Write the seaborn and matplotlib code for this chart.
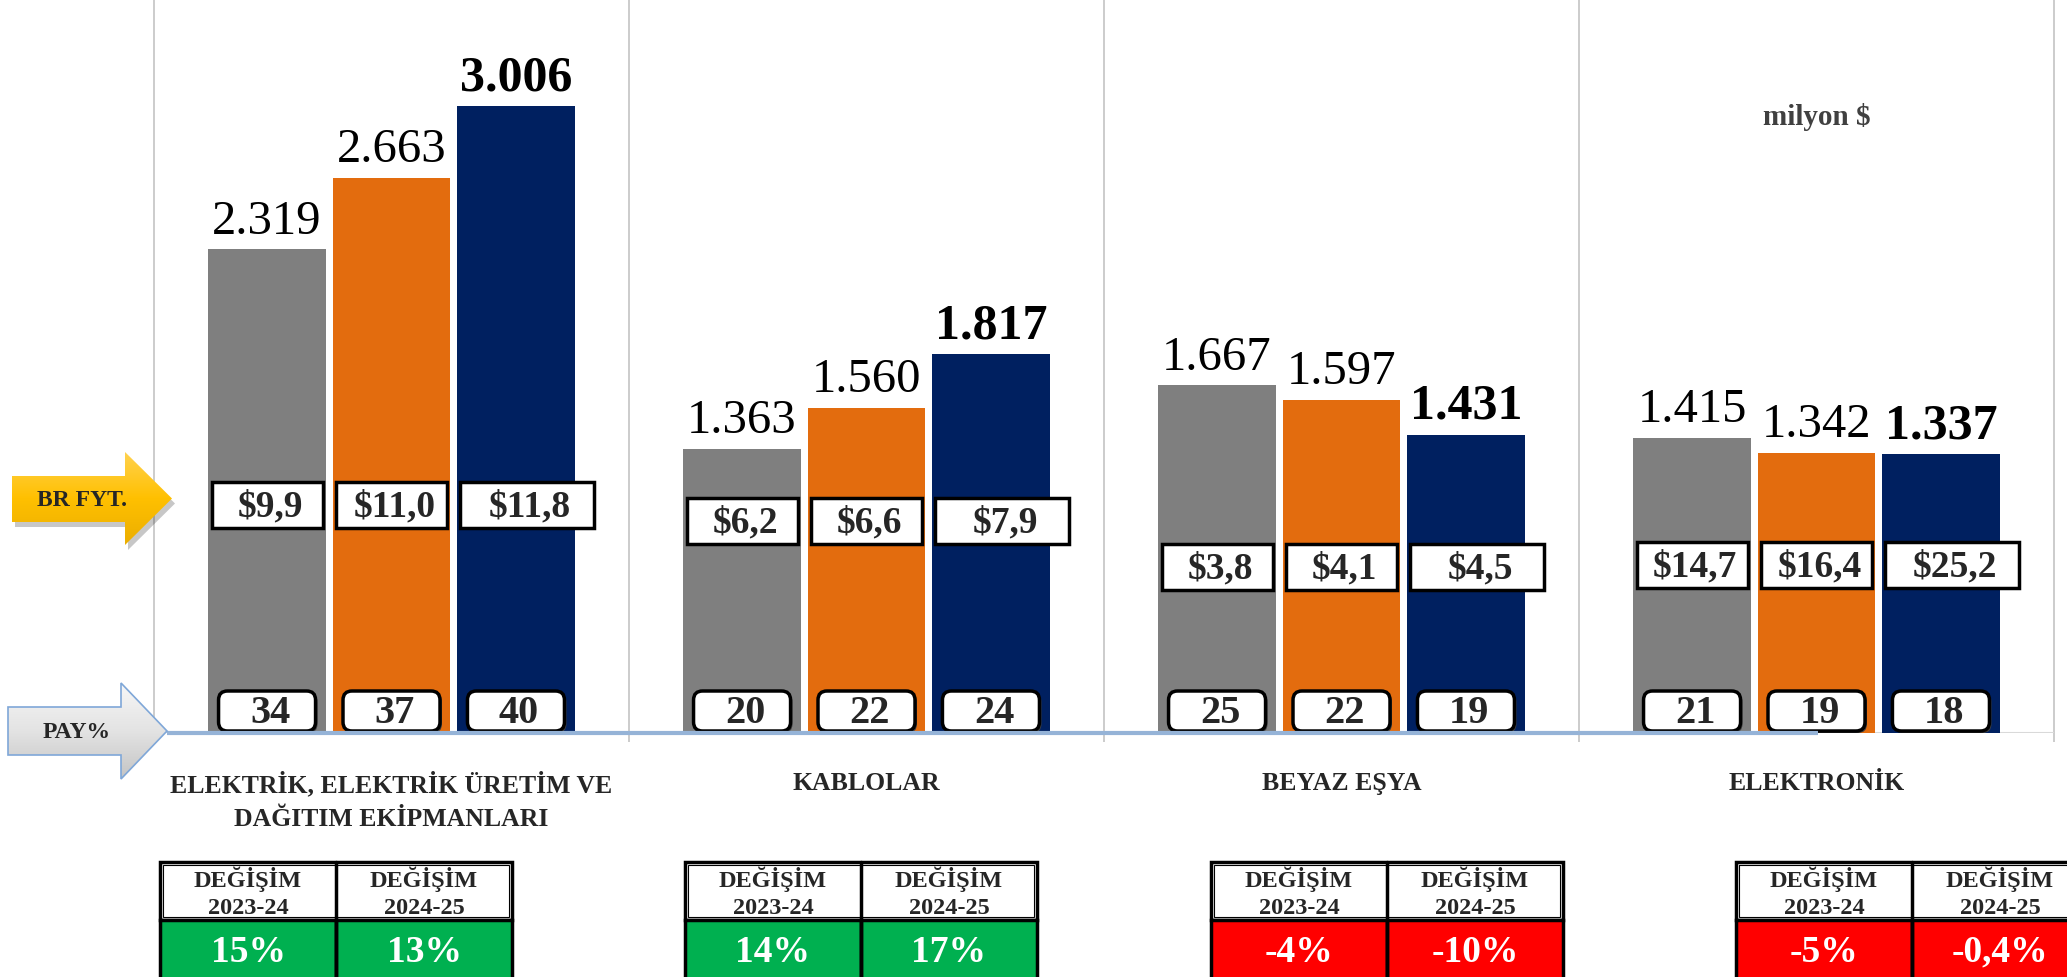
import numpy as np
import pandas as pd
import matplotlib
matplotlib.use("Agg")
import matplotlib.pyplot as plt
import seaborn as sns
from matplotlib.patches import Rectangle, FancyBboxPatch, Polygon
from matplotlib.colors import LinearSegmentedColormap

# ---------------- data ----------------
categories = ["ELEKTRİK, ELEKTRİK ÜRETİM VE\nDAĞITIM EKİPMANLARI", "KABLOLAR", "BEYAZ EŞYA", "ELEKTRONİK"]
years = ["2023", "2024", "2025"]
exports_2023 = [2319, 1363, 1667, 1415]
exports_2024 = [2663, 1560, 1597, 1342]
exports_2025 = [3006, 1817, 1431, 1337]
unit_price_2023 = ["$9,9", "$6,2", "$3,8", "$14,7"]
unit_price_2024 = ["$11,0", "$6,6", "$4,1", "$16,4"]
unit_price_2025 = ["$11,8", "$7,9", "$4,5", "$25,2"]
share_2023 = ["34", "20", "25", "21"]
share_2024 = ["37", "22", "22", "19"]
share_2025 = ["40", "24", "19", "18"]
change_2023_24 = ["15%", "14%", "-4%", "-5%"]
change_2024_25 = ["13%", "17%", "-10%", "-0,4%"]
period_labels = ["2023-24", "2024-25"]
unit_text = "milyon $"

# ---------------- styles / layout ----------------
colors = ["#7F7F7F", "#E36C0E", "#002060"]
W, H, DPI = 2067, 978, 100
ax_left_px, ax_right_px, ax_bottom_px = 154, 2054, 734
ymax = 3519
price_box_y = [1093, 1016, 796, 805]      # vertical placement of price boxes (data units)
table_left_px = [160, 685, 1211, 1736]

sns.set_style("white")
plt.rcParams["font.family"] = ["Liberation Serif", "DejaVu Serif"]

fig = plt.figure(figsize=(W / DPI, H / DPI), dpi=DPI)
ax = fig.add_axes([ax_left_px / W, 1 - ax_bottom_px / H,
                   (ax_right_px - ax_left_px) / W, ax_bottom_px / H])

df = pd.DataFrame({
    "cat": np.repeat(categories, 3),
    "year": years * len(categories),
    "val": np.ravel(np.column_stack([exports_2023, exports_2024, exports_2025])),
})
sns.barplot(data=df, x="cat", y="val", hue="year", hue_order=years,
            palette=colors, saturation=1, width=0.786, gap=0.053,
            linewidth=0, legend=False, ax=ax, zorder=2)

ax.set_xlim(-0.5, len(categories) - 0.5)
ax.set_ylim(0, ymax)
for s in ax.spines.values():
    s.set_visible(False)
ax.set_xticks([]); ax.set_yticks([])
ax.set_xlabel(""); ax.set_ylabel("")

px_per_x = (ax_right_px - ax_left_px) / len(categories)
px_per_y = ax_bottom_px / ymax

# separators and baseline
ax.vlines(np.arange(-0.5, len(categories)), -9 / px_per_y, ymax,
          color="#C8C8C8", lw=1.3, clip_on=False, zorder=1)
ax.axhline(0, color="#D9D9D9", lw=1.5, zorder=1)

prices = [unit_price_2023, unit_price_2024, unit_price_2025]
shares = [share_2023, share_2024, share_2025]
asp = (1 / px_per_y) / (1 / px_per_x)

for i, cont in enumerate(ax.containers):
    for j, bar in enumerate(cont):
        h = bar.get_height()
        cx = bar.get_x() + bar.get_width() / 2
        lab = f"{int(h):,}".replace(",", ".")
        ax.annotate(lab, (cx, h), xytext=(0, 12), textcoords="offset points",
                    ha="center", va="baseline", fontsize=35 if i < 2 else 36,
                    fontweight="bold" if i == 2 else "normal", color="black", zorder=5)
        # price box
        bw = (111 if i < 2 else 134) / px_per_x
        bcx = cx + (0 if i < 2 else 11 / px_per_x)
        bh = 46 / px_per_y
        yc = price_box_y[j]
        ax.add_patch(Rectangle((bcx - bw / 2, yc - bh / 2), bw, bh, facecolor="white",
                               edgecolor="black", lw=2.5, zorder=4))
        ax.text(bcx + 3 / px_per_x, yc - 1 / px_per_y, prices[i][j], ha="center", va="center",
                fontsize=27, fontweight="bold", zorder=6)
        # share box (rounded)
        sw = 97 / px_per_x
        sh = 40 / px_per_y
        sy0 = 2 / px_per_y
        ax.add_patch(FancyBboxPatch((cx - sw / 2 + 2 / px_per_x, sy0 - 2 / px_per_y), sw, sh,
                                    boxstyle=f"round,pad=0,rounding_size={9 / px_per_x}",
                                    mutation_aspect=asp, facecolor="#404040",
                                    edgecolor="none", zorder=3.5))
        ax.add_patch(FancyBboxPatch((cx - sw / 2, sy0), sw, sh,
                                    boxstyle=f"round,pad=0,rounding_size={9 / px_per_x}",
                                    mutation_aspect=asp, facecolor="white",
                                    edgecolor="black", lw=2.5, zorder=4))
        ax.text(cx + 3 / px_per_x, sy0 + sh / 2 - 2 / px_per_y, shares[i][j],
                ha="center", va="center", fontsize=29, fontweight="bold", zorder=6)

# ---------------- overlay in pixel coordinates ----------------
ov = fig.add_axes([0, 0, 1, 1], zorder=3)
ov.patch.set_visible(False)
ov.axis("off")

# category labels
for k, c in enumerate(categories):
    xpx = ax_left_px + (k + 0.5) * px_per_x
    ov.text(xpx, 772, c, ha="center", va="top", fontsize=18.5, fontweight="bold",
            linespacing=1.55)

# blue line along base
ov.plot([167, 1818], [734, 734], color="#95B3D7", lw=3, solid_capstyle="butt", zorder=2)

def arrow_poly(x0, xb, xt, yb0, yb1, yh0, yh1):
    ym = (yh0 + yh1) / 2
    return [(x0, yb0), (xb, yb0), (xb, yh0), (xt, ym), (xb, yh1), (xb, yb1), (x0, yb1)]

grad = np.linspace(0, 1, 256)[:, None]

# BR FYT arrow
br = arrow_poly(12, 125, 172, 477, 523, 453, 546)
ov.add_patch(Polygon([(x + 3, y + 5) for x, y in br], closed=True, facecolor="#000000",
                     alpha=0.22, edgecolor="none", zorder=1))
br_poly = Polygon(br, closed=True, facecolor="none", edgecolor="none", zorder=2)
ov.add_patch(br_poly)
gold = LinearSegmentedColormap.from_list("gold", ["#FFD24F", "#FFC000", "#EBAE00"])
im = ov.imshow(grad, cmap=gold, extent=(12, 172, 546, 453), aspect="auto",
               origin="upper", zorder=3)
im.set_clip_path(br_poly)
ov.text(82, 501, "BR FYT.", ha="center", va="center", fontsize=17, fontweight="bold", zorder=4)

# PAY% arrow
pay = arrow_poly(8, 121, 167, 708, 756, 684, 780)
silver = LinearSegmentedColormap.from_list("silver", ["#F7F7F7", "#E3E3E3", "#C4C4C4"])
pay_clip = Polygon(pay, closed=True, facecolor="none", edgecolor="none")
ov.add_patch(pay_clip)
im2 = ov.imshow(grad, cmap=silver, extent=(8, 167, 780, 684), aspect="auto",
                origin="upper", zorder=3)
im2.set_clip_path(pay_clip)
ov.add_patch(Polygon(pay, closed=True, facecolor="none", edgecolor="#7FA7D8", lw=1.2, zorder=4))
ov.text(77, 733, "PAY%", ha="center", va="center", fontsize=17, fontweight="bold", zorder=5)

# unit label
ov.text(1817, 117, unit_text, ha="center", va="center", fontsize=21, fontweight="bold",
        color="#404040")

# change tables
for k in range(len(categories)):
    x0 = table_left_px[k]
    cw = 176
    ov.add_patch(Rectangle((x0, 863), 2 * cw, 58, facecolor="white", edgecolor="black", lw=2.5))
    ov.add_patch(Rectangle((x0 + 3, 866), 2 * cw - 6, 52, facecolor="none", edgecolor="black", lw=0.8))
    for m, vals in enumerate([change_2023_24, change_2024_25]):
        v = vals[k]
        col = "#FF0000" if v.startswith("-") else "#00B050"
        ov.add_patch(Rectangle((x0 + m * cw, 921), cw, 70, facecolor=col, edgecolor="black", lw=2.5))
        ov.text(x0 + m * cw + cw / 2, 893, "DEĞİŞİM\n" + period_labels[m], ha="center",
                va="center", fontsize=17.5, fontweight="bold", linespacing=1.35)
        ov.text(x0 + m * cw + cw / 2, 952, v, ha="center", va="center", fontsize=27,
                fontweight="bold", color="white")
    ov.plot([x0 + cw, x0 + cw], [863, 978], color="black", lw=2.5)

ov.set_xlim(0, W)
ov.set_ylim(H, 0)
ov.set_aspect("auto")

fig.savefig("out.png", dpi=DPI)
